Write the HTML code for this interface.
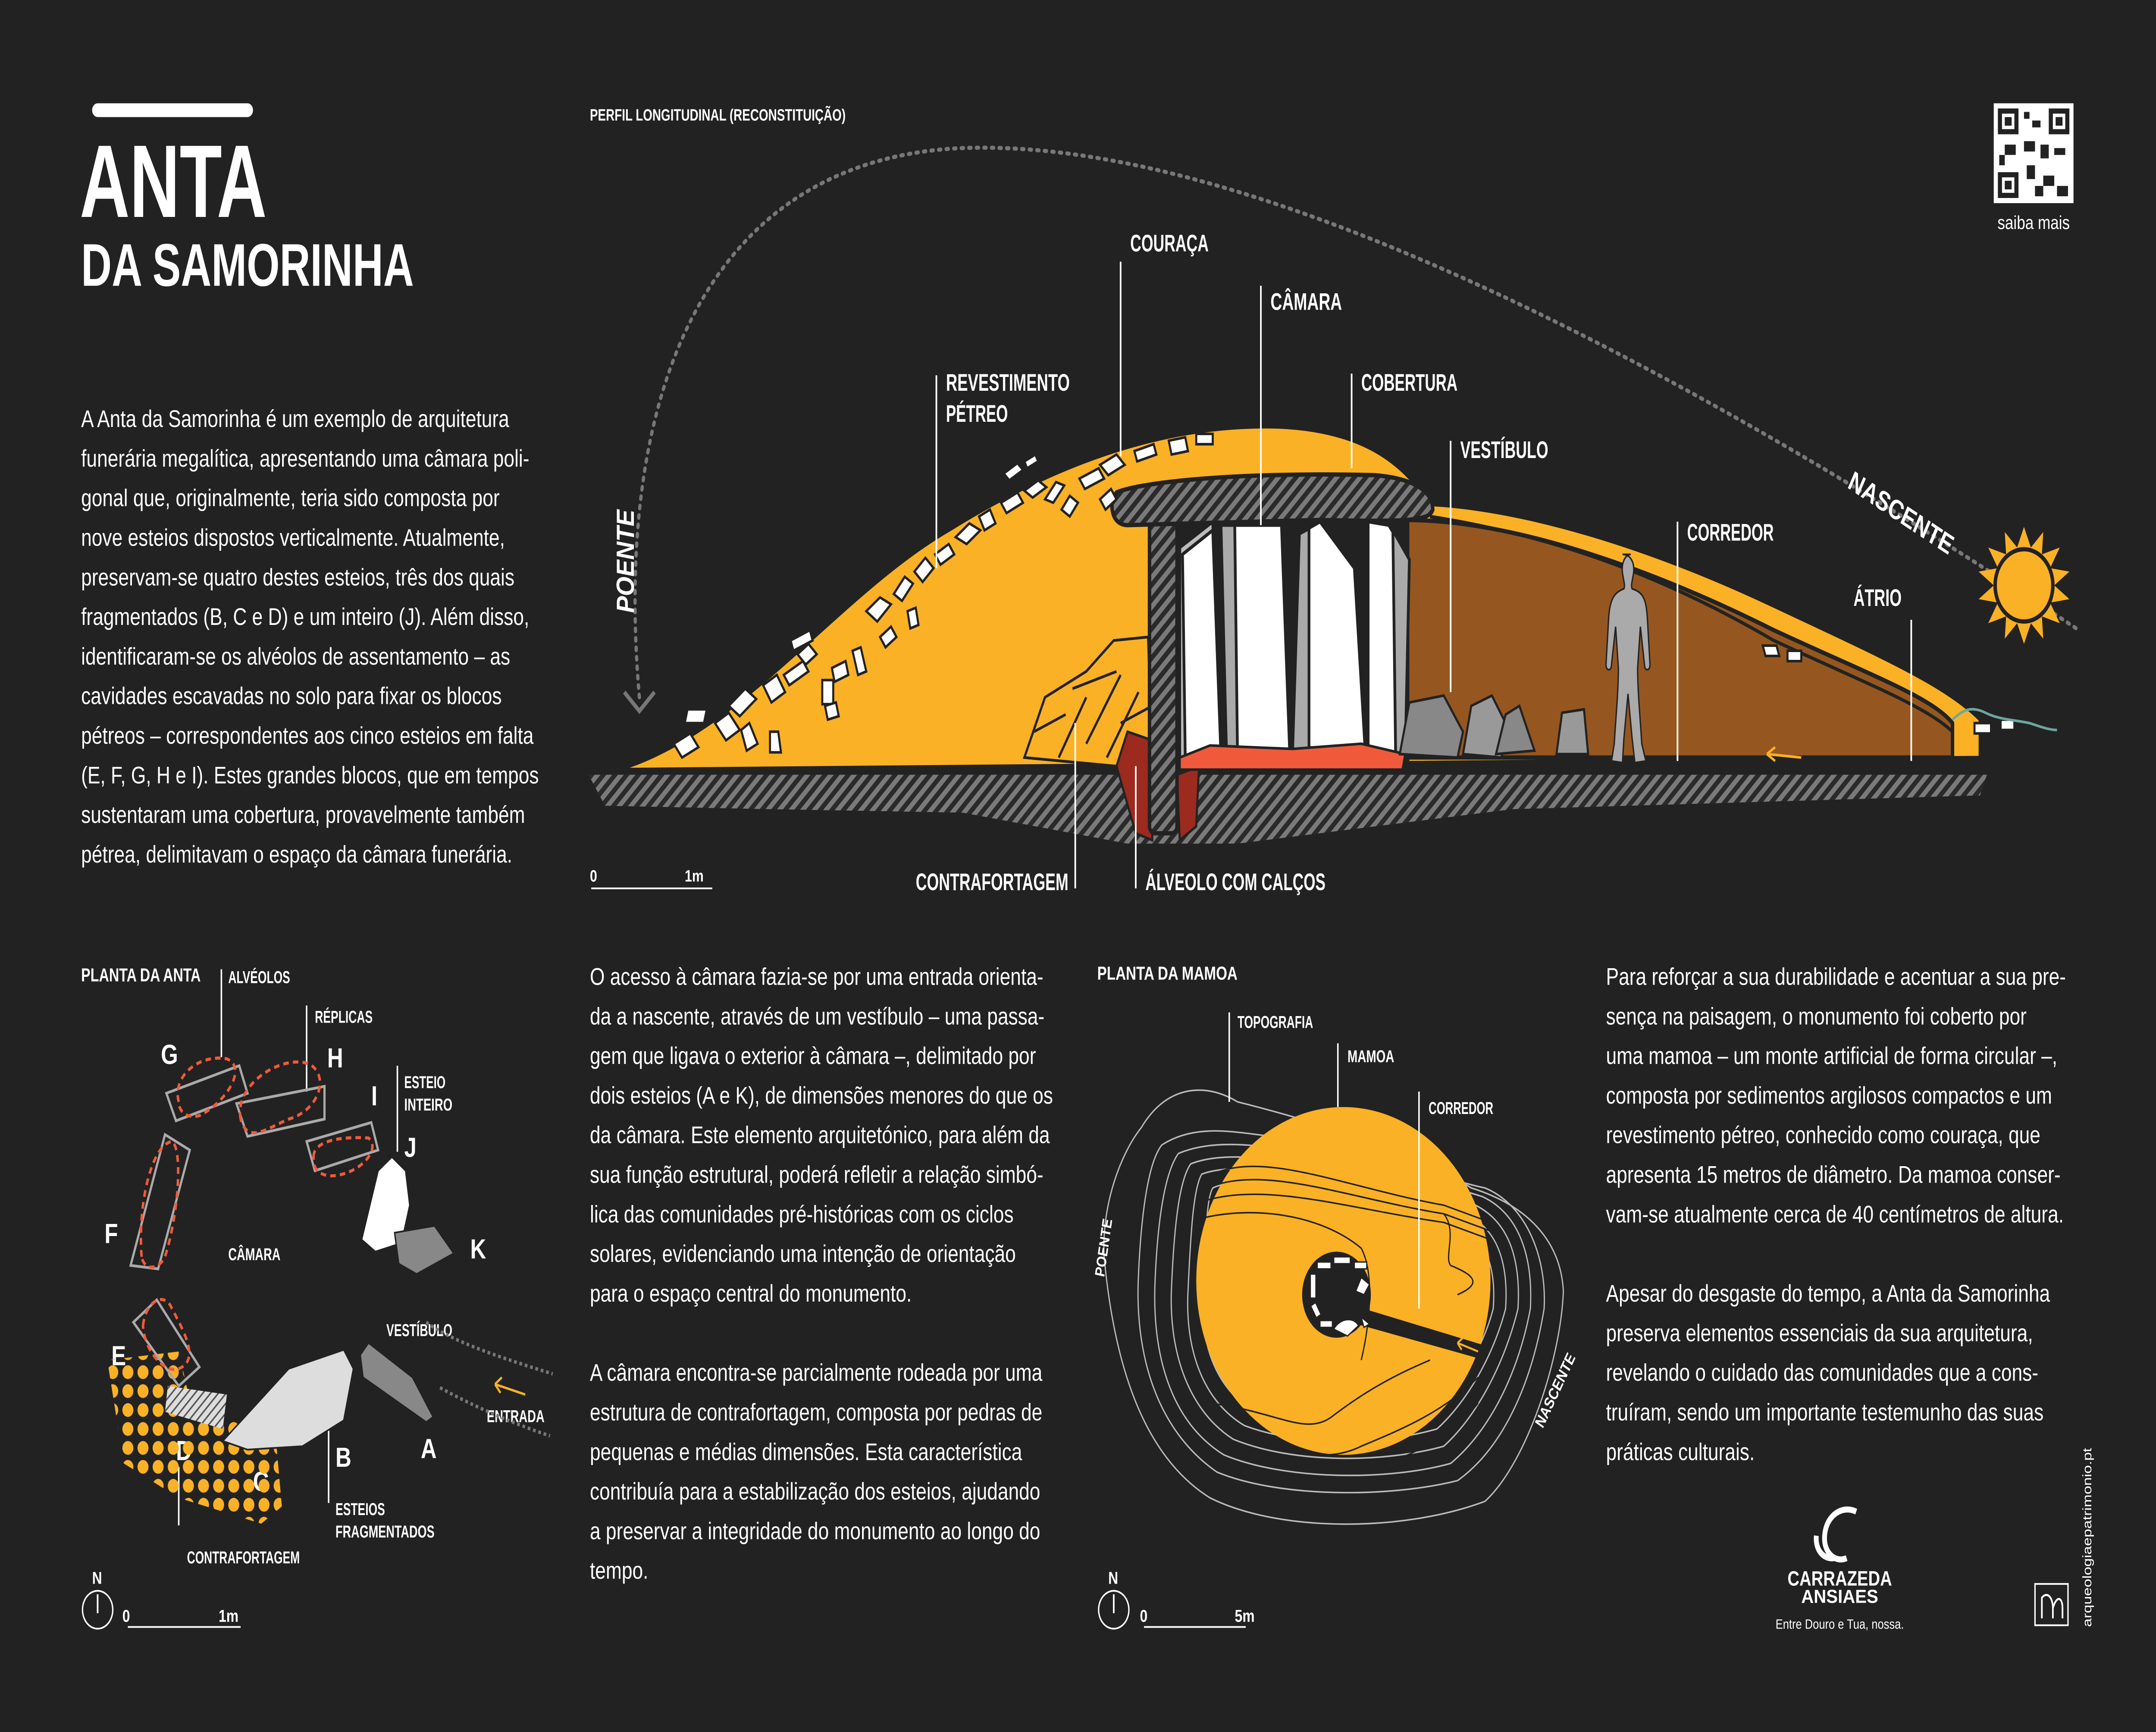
<!DOCTYPE html>
<html><head><meta charset="utf-8"><style>
html,body{margin:0;padding:0;background:#222222;overflow:hidden;width:100%;height:100%}
svg{display:block;position:absolute;left:0;top:0;width:100vw;height:100vh}
.b{font-family:"Liberation Sans",sans-serif;fill:#fff;font-size:13.9px}
.h{font-family:"Liberation Sans Narrow","Liberation Sans",sans-serif;font-weight:bold;fill:#fff}
</style></head><body>
<svg viewBox="0 0 1568 1006" preserveAspectRatio="none" xmlns="http://www.w3.org/2000/svg">
<defs>
<pattern id="hat" width="6" height="6" patternUnits="userSpaceOnUse" patternTransform="rotate(45)">
<rect width="6" height="6" fill="#2a2a2a"/><rect width="3" height="6" fill="#7a7a7a"/></pattern>
<pattern id="hat2" width="4" height="4" patternUnits="userSpaceOnUse" patternTransform="rotate(45)">
<rect width="4" height="4" fill="#ddd"/><rect width="1" height="4" fill="#555"/></pattern>
<pattern id="dots" width="11" height="11" patternUnits="userSpaceOnUse">
<circle cx="5" cy="5" r="4" fill="#FBB125"/></pattern>
</defs>
<rect width="1568" height="1006" fill="#222222"/>

<rect x="67" y="60" width="117" height="8" rx="4" fill="#fff"/>
<text x="58" y="126" class="h" font-size="60" textLength="136" lengthAdjust="spacingAndGlyphs">ANTA</text>
<text x="59" y="166" class="h" font-size="35" textLength="242" lengthAdjust="spacingAndGlyphs">DA SAMORINHA</text>

<g class="b">
<text x="59" y="248">A Anta da Samorinha é um exemplo de arquitetura</text>
<text x="59" y="271">funerária megalítica, apresentando uma câmara poli-</text>
<text x="59" y="294">gonal que, originalmente, teria sido composta por</text>
<text x="59" y="317">nove esteios dispostos verticalmente. Atualmente,</text>
<text x="59" y="340">preservam-se quatro destes esteios, três dos quais</text>
<text x="59" y="363">fragmentados (B, C e D) e um inteiro (J). Além disso,</text>
<text x="59" y="386">identificaram-se os alvéolos de assentamento – as</text>
<text x="59" y="409">cavidades escavadas no solo para fixar os blocos</text>
<text x="59" y="432">pétreos – correspondentes aos cinco esteios em falta</text>
<text x="59" y="455">(E, F, G, H e I). Estes grandes blocos, que em tempos</text>
<text x="59" y="478">sustentaram uma cobertura, provavelmente também</text>
<text x="59" y="501">pétrea, delimitavam o espaço da câmara funerária.</text>

<text x="429" y="572">O acesso à câmara fazia-se por uma entrada orienta-</text>
<text x="429" y="595">da a nascente, através de um vestíbulo – uma passa-</text>
<text x="429" y="618">gem que ligava o exterior à câmara –, delimitado por</text>
<text x="429" y="641">dois esteios (A e K), de dimensões menores do que os</text>
<text x="429" y="664">da câmara. Este elemento arquitetónico, para além da</text>
<text x="429" y="687">sua função estrutural, poderá refletir a relação simbó-</text>
<text x="429" y="710">lica das comunidades pré-históricas com os ciclos</text>
<text x="429" y="733">solares, evidenciando uma intenção de orientação</text>
<text x="429" y="756">para o espaço central do monumento.</text>
<text x="429" y="802">A câmara encontra-se parcialmente rodeada por uma</text>
<text x="429" y="825">estrutura de contrafortagem, composta por pedras de</text>
<text x="429" y="848">pequenas e médias dimensões. Esta característica</text>
<text x="429" y="871">contribuía para a estabilização dos esteios, ajudando</text>
<text x="429" y="894">a preservar a integridade do monumento ao longo do</text>
<text x="429" y="917">tempo.</text>

<text x="1168" y="572">Para reforçar a sua durabilidade e acentuar a sua pre-</text>
<text x="1168" y="595">sença na paisagem, o monumento foi coberto por</text>
<text x="1168" y="618">uma mamoa – um monte artificial de forma circular –,</text>
<text x="1168" y="641">composta por sedimentos argilosos compactos e um</text>
<text x="1168" y="664">revestimento pétreo, conhecido como couraça, que</text>
<text x="1168" y="687">apresenta 15 metros de diâmetro. Da mamoa conser-</text>
<text x="1168" y="710">vam-se atualmente cerca de 40 centímetros de altura.</text>
<text x="1168" y="756">Apesar do desgaste do tempo, a Anta da Samorinha</text>
<text x="1168" y="779">preserva elementos essenciais da sua arquitetura,</text>
<text x="1168" y="802">revelando o cuidado das comunidades que a cons-</text>
<text x="1168" y="825">truíram, sendo um importante testemunho das suas</text>
<text x="1168" y="848">práticas culturais.</text>
</g>

<!-- PROFILE -->
<text x="429" y="70" class="h" font-size="9.5" textLength="186" lengthAdjust="spacingAndGlyphs">PERFIL LONGITUDINAL (RECONSTITUIÇÃO)</text>
<path d="M465,405 C445,220 520,92 700,86 C900,80 1200,200 1510,365" fill="none" stroke="#777" stroke-width="2.4" stroke-dasharray="1.5 4" stroke-linecap="round"/>
<path d="M454,402 L465,413 L476,402" fill="none" stroke="#777" stroke-width="2.5"/>
<text transform="translate(461,356) rotate(-90)" class="h" font-size="18" font-style="italic" textLength="60" lengthAdjust="spacingAndGlyphs">POENTE</text>
<text transform="translate(1343,283) rotate(28)" class="h" font-size="16" textLength="84" lengthAdjust="spacingAndGlyphs">NASCENTE</text>
<g transform="translate(1472,340)">
<polygon fill="#FBB125" points="0,-34 5,-22 14,-31 13,-18 26,-22 19,-10 33,-8 22,0 33,8 19,10 26,22 13,18 14,31 5,22 0,34 -5,22 -14,31 -13,18 -26,22 -19,10 -33,8 -22,0 -33,-8 -19,-10 -26,-22 -13,-18 -14,-31 -5,-22"/>
<circle r="21" fill="#FBB125" stroke="#222" stroke-width="2.5"/>
</g>
<path d="M428,450 L1445,450 L1440,462 L1100,470 L900,490 L820,490 L700,472 L560,470 L440,468 Z" fill="url(#hat)"/>
<path d="M450,447 C540,425 610,345 690,308 C770,268 850,246 930,248 C990,250 1020,268 1040,293 C1110,296 1200,318 1290,352 C1370,382 1415,398 1440,418 L1440,440 L450,447 Z" fill="#FBB125" stroke="#222" stroke-width="2"/>
<path d="M1022,302 C1100,302 1200,330 1290,366 C1360,392 1405,405 1420,420 L1420,440 L1022,440 Z" fill="#95571F" stroke="#222" stroke-width="2.5"/>
<path d="M1040,300 C1120,310 1200,330 1290,372 C1360,398 1400,410 1420,425" fill="none" stroke="#222" stroke-width="2"/>
<g fill="#FBB125" stroke="#222" stroke-width="1.6">
<path d="M745,440 L760,405 L790,390 L810,372 L835,370 L838,447 Z"/>
<path d="M752,425 L775,415 M770,440 L790,405 M790,432 L815,392 M805,440 L828,402 M815,420 L838,410 M780,400 L812,390" fill="none"/>
</g>
<path d="M812,445 L820,425 L838,430 L838,488 L826,484 Z" fill="#9C2A1E" stroke="#222" stroke-width="1.5"/>
<path d="M856,450 L872,445 L870,480 L858,488 Z" fill="#9C2A1E" stroke="#222" stroke-width="1.5"/>
<rect x="853" y="300" width="172" height="142" fill="#222"/>
<g stroke="#222" stroke-width="2">
<path d="M858,318 L882,303 L888,440 L858,440 Z" fill="#bbb"/>
<path d="M860,322 L882,308 L888,440 L862,440 Z" fill="#fff"/>
<path d="M888,305 L932,305 L938,438 L892,438 Z" fill="#fff"/>
<path d="M888,305 L898,305 L900,438 L892,438 Z" fill="#aaa"/>
<path d="M945,310 L960,303 L985,330 L993,438 L940,438 Z" fill="#fff"/>
<path d="M945,310 L952,307 L952,438 L940,438 Z" fill="#aaa"/>
<path d="M995,303 L1010,305 L1025,325 L1022,438 L995,438 Z" fill="#fff"/>
<path d="M1013,308 L1025,325 L1022,438 L1015,438 Z" fill="#aaa"/>
</g>
<path d="M858,440 L880,433 L940,435 L990,432 L1022,438 L1020,447 L858,447 Z" fill="#F05A3B" stroke="#222" stroke-width="1.5"/>
<rect x="836" y="298" width="20" height="186" rx="4" fill="url(#hat)" stroke="#222" stroke-width="2.5"/>
<path d="M812,286 C830,280 900,274 1000,276 C1030,278 1042,286 1042,296 C1040,303 1020,303 960,302 L820,305 C808,305 806,292 812,286 Z" fill="url(#hat)" stroke="#222" stroke-width="2.5"/>
<g fill="#fff" stroke="#222" stroke-width="1.5">
<path d="M500,412 l14,0 -2,8 -14,0z"/><path d="M490,432 l12,-6 6,8 -12,6z"/>
<path d="M520,420 l10,-6 8,10 -10,6z"/><path d="M545,420 l6,12 -8,4 -4,-12z"/>
<path d="M530,410 l12,-10 8,6 -12,10z"/><path d="M555,398 l10,-6 6,10 -10,6z"/>
<path d="M560,425 l6,0 2,12 -8,0z"/><path d="M570,392 l14,-8 4,6 -14,8z"/>
<path d="M580,380 l8,-6 6,6 -8,6z"/><path d="M598,395 l8,0 0,14 -8,0z"/>
<path d="M605,388 l10,-4 2,8 -10,4z"/><path d="M620,378 l6,-2 4,14 -6,2z"/>
<path d="M575,372 l14,-6 2,6 -14,6z"/><path d="M600,410 l8,-2 2,8 -8,2z"/>
<path d="M630,355 l10,-8 8,4 -10,10z"/><path d="M650,345 l8,-10 6,4 -8,10z"/>
<path d="M665,332 l8,-8 6,6 -8,8z"/><path d="M680,322 l10,-6 4,6 -10,6z"/>
<path d="M695,312 l10,-8 8,4 -10,8z"/><path d="M712,300 l8,-4 4,8 -8,4z"/>
<path d="M728,292 l12,-6 4,6 -12,6z"/><path d="M745,285 l10,-6 6,4 -10,6z"/>
<path d="M760,290 l8,-10 6,2 -8,10z"/><path d="M772,296 l6,-8 6,4 -6,8z"/>
<path d="M785,278 l14,-6 4,6 -14,6z"/><path d="M800,270 l12,-6 6,6 -12,6z"/>
<path d="M730,275 l10,-6 4,4 -10,6z"/><path d="M745,268 l8,-4 2,4 -8,4z"/>
<path d="M825,262 l14,-4 2,6 -14,4z"/><path d="M850,256 l12,-2 2,8 -12,2z"/>
<path d="M870,252 l12,0 0,6 -12,0z"/><path d="M800,290 l8,-6 4,6 -8,6z"/>
<path d="M660,355 l6,-2 2,10 -6,2z"/><path d="M640,370 l8,-6 4,6 -8,6z"/>
<path d="M1282,375 l10,0 2,6 -10,0z"/><path d="M1300,378 l10,0 0,6 -10,0z"/>
<path d="M1436,420 l12,0 0,6 -12,0z"/><path d="M1455,418 l10,0 0,6 -10,0z"/>
</g>
<g stroke="#222" stroke-width="1.5">
<path d="M1018,438 L1025,408 L1050,404 L1064,425 L1060,440 Z" fill="#888"/>
<path d="M1064,438 L1070,410 L1085,404 L1095,420 L1092,440 Z" fill="#999"/>
<path d="M1088,438 L1095,415 L1105,410 L1116,436 Z" fill="#888"/>
<path d="M1132,438 L1136,414 L1152,412 L1155,438 Z" fill="#999"/>
</g>
<path d="M1180,322 c6,0 9,5 8,11 c-1,5 -2,7 -1,9 c8,2 10,6 11,16 l2,28 c0,4 -4,4 -4,0 l-3,-22 -2,24 c0,14 2,30 3,44 l3,10 -8,1 -2,-14 -3,-26 -3,26 -1,14 -8,-1 2,-10 c1,-14 3,-30 3,-44 l-2,-24 -3,22 c0,4 -4,4 -4,0 l2,-28 c1,-10 4,-14 11,-16 c1,-2 0,-4 -1,-9 c-1,-6 2,-11 6,-11z" fill="#aaa" stroke="#222" stroke-width="1"/>
<path d="M1310,440 L1285,438 M1285,438 l6,-4 M1285,438 l6,4" stroke="#FBB125" stroke-width="1.5" fill="none"/>
<path d="M1420,418 c8,-6 14,-8 24,-4 c10,4 20,4 32,6 c8,2 14,4 20,4" fill="none" stroke="#6BA7A0" stroke-width="1.5"/>
<g stroke="#fff" stroke-width="1.2">
<line x1="815" y1="152" x2="815" y2="265"/>
<line x1="917" y1="166" x2="917" y2="305"/>
<line x1="681" y1="218" x2="681" y2="330"/>
<line x1="983" y1="217" x2="983" y2="272"/>
<line x1="1055" y1="256" x2="1055" y2="402"/>
<line x1="1220" y1="303" x2="1220" y2="442"/>
<line x1="1390" y1="360" x2="1390" y2="442"/>
<line x1="782" y1="420" x2="782" y2="516"/>
<line x1="826" y1="445" x2="826" y2="516"/>
</g>
<g class="h" font-size="14">
<text x="822" y="146" textLength="57" lengthAdjust="spacingAndGlyphs">COURAÇA</text>
<text x="924" y="180" textLength="52" lengthAdjust="spacingAndGlyphs">CÂMARA</text>
<text x="688" y="227" textLength="90" lengthAdjust="spacingAndGlyphs">REVESTIMENTO</text>
<text x="688" y="245" textLength="45" lengthAdjust="spacingAndGlyphs">PÉTREO</text>
<text x="990" y="227" textLength="70" lengthAdjust="spacingAndGlyphs">COBERTURA</text>
<text x="1062" y="266" textLength="64" lengthAdjust="spacingAndGlyphs">VESTÍBULO</text>
<text x="1227" y="314" textLength="63" lengthAdjust="spacingAndGlyphs">CORREDOR</text>
<text x="1348" y="352" textLength="35" lengthAdjust="spacingAndGlyphs">ÁTRIO</text>
<text x="666" y="517" textLength="111" lengthAdjust="spacingAndGlyphs">CONTRAFORTAGEM</text>
<text x="833" y="517" textLength="131" lengthAdjust="spacingAndGlyphs">ÁLVEOLO COM CALÇOS</text>
</g>
<line x1="430" y1="516" x2="518" y2="516" stroke="#fff" stroke-width="1"/>
<text x="429" y="512" class="h" font-size="9.5">0</text>
<text x="498" y="512" class="h" font-size="9.5">1m</text>

<g transform="translate(1450,60)">
<rect width="58" height="58" fill="#fff"/>
<g fill="#222">
<rect x="3" y="3" width="15" height="15"/><rect x="40" y="3" width="15" height="15"/><rect x="3" y="40" width="15" height="15"/>
<rect x="22" y="5" width="4" height="4"/><rect x="28" y="10" width="6" height="4"/><rect x="22" y="22" width="8" height="6"/>
<rect x="34" y="24" width="6" height="8"/><rect x="44" y="26" width="8" height="4"/><rect x="24" y="36" width="6" height="8"/>
<rect x="36" y="42" width="8" height="6"/><rect x="46" y="48" width="8" height="6"/><rect x="8" y="24" width="8" height="6"/>
<rect x="30" y="48" width="6" height="6"/><rect x="4" y="30" width="4" height="6"/>
</g>
<g fill="#fff"><rect x="6" y="6" width="9" height="9"/><rect x="43" y="6" width="9" height="9"/><rect x="6" y="43" width="9" height="9"/></g>
<g fill="#222"><rect x="8" y="8" width="5" height="5"/><rect x="45" y="8" width="5" height="5"/><rect x="8" y="45" width="5" height="5"/></g>
</g>
<text x="1479" y="133" text-anchor="middle" font-family="Liberation Sans,sans-serif" font-size="11" fill="#fff">saiba mais</text>

<!-- PLANTA DA ANTA -->
<text x="59" y="570" class="h" font-size="11" textLength="87" lengthAdjust="spacingAndGlyphs">PLANTA DA ANTA</text>
<g class="h" font-size="10">
<text x="166" y="571" textLength="45" lengthAdjust="spacingAndGlyphs">ALVÉOLOS</text>
<text x="229" y="594" textLength="42" lengthAdjust="spacingAndGlyphs">RÉPLICAS</text>
<text x="294" y="632" textLength="30" lengthAdjust="spacingAndGlyphs">ESTEIO</text>
<text x="294" y="645" textLength="35" lengthAdjust="spacingAndGlyphs">INTEIRO</text>
<text x="166" y="732" textLength="38" lengthAdjust="spacingAndGlyphs">CÂMARA</text>
<text x="281" y="776" textLength="48" lengthAdjust="spacingAndGlyphs">VESTÍBULO</text>
<text x="354" y="826" textLength="42" lengthAdjust="spacingAndGlyphs">ENTRADA</text>
<text x="244" y="880" textLength="36" lengthAdjust="spacingAndGlyphs">ESTEIOS</text>
<text x="244" y="893" textLength="72" lengthAdjust="spacingAndGlyphs">FRAGMENTADOS</text>
<text x="136" y="908" textLength="82" lengthAdjust="spacingAndGlyphs">CONTRAFORTAGEM</text>
</g>
<g stroke="#fff" stroke-width="1.1">
<line x1="161" y1="563" x2="161" y2="614"/>
<line x1="223" y1="584" x2="223" y2="634"/>
<line x1="289" y1="619" x2="289" y2="669"/>
<line x1="239" y1="823" x2="239" y2="873"/>
<line x1="130" y1="852" x2="130" y2="886"/>
</g>
<g class="h" font-size="16">
<text x="117" y="618">G</text><text x="238" y="620">H</text><text x="270" y="642">I</text>
<text x="294" y="672">J</text><text x="76" y="722">F</text><text x="342" y="731">K</text>
<text x="81" y="793">E</text><text x="128" y="848">D</text><text x="184" y="866">C</text>
<text x="244" y="852">B</text><text x="306" y="847">A</text>
</g>
<path d="M78,790 L130,785 L140,820 L200,830 L205,875 L190,885 L130,870 L90,850 L82,810 Z" fill="url(#dots)"/>
<g fill="none" stroke="#aaa" stroke-width="1.6">
<path d="M121,635 L174,619 L180,635 L128,651 Z"/>
<path d="M172,641 L236,631 L236,650 L180,660 Z"/>
<path d="M223,663 L270,652 L275,668 L229,680 Z"/>
<path d="M95,735 L120,659 L138,668 L115,737 Z"/>
<path d="M97,768 L114,755 L145,794 L130,805 Z"/>
</g>
<g fill="none" stroke="#F05A3B" stroke-width="1.8" stroke-dasharray="4 3">
<path d="M130,640 C125,625 145,612 165,615 C180,620 165,640 145,648 C135,650 130,645 130,640Z"/>
<path d="M175,650 C170,630 205,612 225,618 C240,625 232,645 210,650 C195,655 180,665 175,650Z"/>
<path d="M228,672 C228,662 250,660 268,661 C278,668 260,683 240,683 C230,682 228,678 228,672Z"/>
<path d="M103,730 C100,700 110,665 125,663 C133,667 130,705 120,730 C115,738 105,738 103,730Z"/>
<path d="M104,770 C106,755 120,750 125,760 C135,775 145,790 130,795 C120,798 105,785 104,770Z"/>
</g>
<path d="M263,720 L275,680 L285,672 L295,680 L298,700 L292,722 L273,727 Z" fill="#fff" stroke="#222" stroke-width="1"/>
<path d="M287,716 L316,712 L330,728 L303,740 L290,734 Z" fill="#888" stroke="#222" stroke-width="1"/>
<path d="M122,805 L165,810 L162,830 L120,820 Z" fill="url(#hat2)"/>
<path d="M162,837 L210,795 L250,784 L257,795 L250,825 L220,840 L180,842 Z" fill="#ddd" stroke="#222" stroke-width="1"/>
<path d="M262,787 L268,780 L300,800 L315,823 L310,826 L264,800 Z" fill="#888" stroke="#222" stroke-width="1"/>
<path d="M310,768 C330,780 370,790 402,798 M320,806 C340,815 370,826 400,834" fill="none" stroke="#777" stroke-width="2" stroke-dasharray="2 2"/>
<path d="M382,810 L360,804 M360,804 l5,-4 M360,804 l4,5" stroke="#FBB125" stroke-width="1.4" fill="none"/>
<text x="67" y="920" class="h" font-size="10">N</text>
<circle cx="71" cy="935" r="11" fill="none" stroke="#fff" stroke-width="1"/>
<line x1="71" y1="926" x2="71" y2="937" stroke="#fff" stroke-width="1.2"/>
<line x1="93" y1="945" x2="175" y2="945" stroke="#fff" stroke-width="1"/>
<text x="89" y="942" class="h" font-size="10">0</text>
<text x="159" y="942" class="h" font-size="10">1m</text>

<!-- PLANTA DA MAMOA -->
<text x="798" y="569" class="h" font-size="11" textLength="102" lengthAdjust="spacingAndGlyphs">PLANTA DA MAMOA</text>
<g fill="none" stroke="#bbb" stroke-width="0.9">
<path d="M830,655 C850,628 880,630 900,640 C960,652 1030,670 1070,690 C1110,700 1135,720 1137,750 C1135,790 1110,850 1080,872 C1020,890 930,890 880,870 C830,845 810,790 803,730 C801,700 815,670 830,655Z"/>
<path d="M845,665 C870,652 900,658 925,660 C985,666 1050,685 1080,690 C1110,700 1125,730 1123,760 C1115,800 1095,840 1060,860 C1010,870 930,870 885,855 C840,830 825,785 828,740 C830,705 835,675 845,665Z"/>
<path d="M857,670 C880,662 910,665 930,667 C990,675 1050,688 1078,695 C1105,705 1115,730 1113,760 C1105,795 1085,830 1055,850 C1010,860 935,860 890,845 C850,825 838,785 840,745 C842,705 848,680 857,670Z"/>
<path d="M866,676 C885,670 910,672 935,674 C990,682 1045,692 1073,700 C1098,710 1106,732 1104,760 C1095,790 1075,822 1050,840 C1005,850 940,850 897,836 C862,818 850,782 852,748 C854,710 858,685 866,676Z"/>
<path d="M874,682 C890,677 915,679 940,681 C990,688 1040,698 1068,706 C1090,715 1097,735 1095,760 C1086,788 1066,815 1045,830 C1000,840 945,840 905,828 C872,812 862,780 864,750 C866,715 868,690 874,682Z"/>
<path d="M882,690 C895,685 920,687 945,689 C990,696 1035,705 1062,712 C1082,720 1088,738 1086,760 C1078,785 1058,808 1040,820 C998,830 950,830 912,820 C882,805 873,778 875,752 C877,720 877,697 882,690Z"/>
</g>
<ellipse cx="977" cy="744" rx="107" ry="101" fill="#FBB125"/>
<g fill="none" stroke="#222" stroke-width="0.9">
<path d="M882,682 C920,668 980,690 1050,700 L1084,710"/>
<path d="M878,690 C920,676 980,696 1050,705 L1084,715"/>
<path d="M874,698 C920,686 980,702 1050,710 L1084,720"/>
<path d="M872,708 C910,700 960,705 990,725 C1000,740 996,770 990,790"/>
<path d="M880,815 C930,820 950,835 970,822 C990,810 1010,800 1040,790"/>
<path d="M890,830 C930,840 960,852 990,840 C1020,830 1050,820 1075,800"/>
<path d="M900,845 C940,855 980,860 1010,850 C1040,840 1060,830 1075,815"/>
<path d="M1050,705 C1060,715 1050,730 1055,735 C1070,740 1080,745 1060,752"/>
</g>
<path d="M983,758 L1082,782 L1080,790 L982,768 Z" fill="#222"/>
<circle cx="972" cy="752" r="25" fill="#222"/>
<g fill="#fff" stroke="#222" stroke-width="0.8">
<rect x="958" y="733" width="10" height="4"/><rect x="970" y="730" width="12" height="4"/><rect x="985" y="733" width="9" height="4"/>
<rect x="953" y="740" width="4" height="14"/><rect x="955" y="757" width="4" height="8" transform="rotate(-30 957 761)"/>
<rect x="960" y="767" width="9" height="4"/><path d="M970,772 C975,765 985,765 988,770 L980,776 Z"/>
<path d="M990,742 l6,4 -4,6 -6,-2z"/><path d="M990,765 l6,4 -4,2z"/>
</g>
<path d="M1075,785 L1060,780 M1060,780 l4,-3 M1060,780 l3,4" stroke="#FBB125" stroke-width="1.2" fill="none"/>
<g stroke="#fff" stroke-width="1.1">
<line x1="894" y1="588" x2="894" y2="640"/>
<line x1="973" y1="606" x2="973" y2="643"/>
<line x1="1032" y1="634" x2="1032" y2="760"/>
</g>
<g class="h" font-size="10">
<text x="900" y="597" textLength="55" lengthAdjust="spacingAndGlyphs">TOPOGRAFIA</text>
<text x="980" y="617" textLength="34" lengthAdjust="spacingAndGlyphs">MAMOA</text>
<text x="1039" y="647" textLength="47" lengthAdjust="spacingAndGlyphs">CORREDOR</text>
<text transform="translate(803,742) rotate(-80)" textLength="34" lengthAdjust="spacingAndGlyphs">POENTE</text>
<text transform="translate(1122,830) rotate(-60)" textLength="48" lengthAdjust="spacingAndGlyphs">NASCENTE</text>
</g>
<text x="806" y="920" class="h" font-size="10">N</text>
<circle cx="810" cy="935" r="11" fill="none" stroke="#fff" stroke-width="1"/>
<line x1="810" y1="926" x2="810" y2="937" stroke="#fff" stroke-width="1.2"/>
<line x1="832" y1="945" x2="906" y2="945" stroke="#fff" stroke-width="1"/>
<text x="829" y="942" class="h" font-size="10">0</text>
<text x="898" y="942" class="h" font-size="10">5m</text>

<path d="M1350,878 C1340,874 1328,880 1327,892 C1326,902 1335,908 1343,905 M1334,905 C1326,906 1320,900 1321,892" fill="none" stroke="#fff" stroke-width="3.5"/>
<text x="1338" y="921" text-anchor="middle" class="h" font-size="12" textLength="76" lengthAdjust="spacingAndGlyphs">CARRAZEDA</text>
<text x="1338" y="931" text-anchor="middle" class="h" font-size="11" textLength="56" lengthAdjust="spacingAndGlyphs">ANSIAES</text>
<text x="1338" y="946" text-anchor="middle" font-family="Liberation Sans,sans-serif" font-size="8" fill="#fff">Entre Douro e Tua, nossa.</text>
<rect x="1480" y="920" width="24" height="24" fill="none" stroke="#fff" stroke-width="1"/>
<path d="M1485,940 L1485,928 C1489,924 1493,928 1493,934 L1493,940 M1493,934 C1496,926 1500,928 1500,934 L1500,940" fill="none" stroke="#fff" stroke-width="1.2"/>
<text transform="translate(1521,945) rotate(-90)" font-family="Liberation Sans,sans-serif" font-size="9" fill="#fff">arqueologiaepatrimonio.pt</text>
</svg>
</body></html>
